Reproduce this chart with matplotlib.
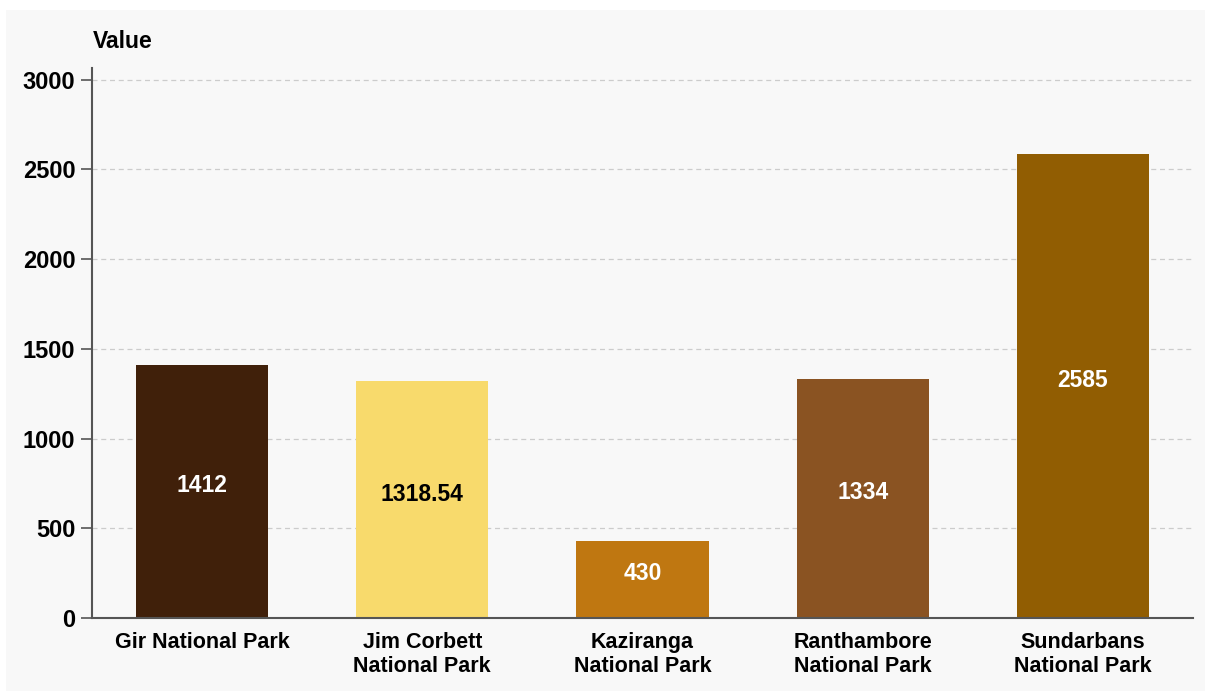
import matplotlib.pyplot as plt
from matplotlib.patches import Rectangle

# park data
parks = ["Gir National Park", "Jim Corbett\nNational Park", "Kaziranga\nNational Park",
         "Ranthambore\nNational Park", "Sundarbans\nNational Park"]
values = [1412, 1318.54, 430, 1334, 2585]
labels = ["1412", "1318.54", "430", "1334", "2585"]
colors = ["#40200a", "#f8da6c", "#bf7711", "#8a5322", "#915d02"]
label_colors = ["white", "black", "white", "white", "white"]
yticks = [0, 500, 1000, 1500, 2000, 2500, 3000]

plt.rcParams['font.family'] = ['Liberation Sans', 'DejaVu Sans']

fig = plt.figure(figsize=(12.05, 6.91), dpi=100, facecolor="white")
fig.patches.append(Rectangle((6 / 1205, 0), 1, 1 - 10 / 691, transform=fig.transFigure,
                             facecolor="#f8f8f8", edgecolor="none", zorder=-10))

ax = fig.add_axes([92 / 1205, 1 - 618 / 691, 1101 / 1205, 550 / 691])
ax.set_facecolor("#f8f8f8")

x = range(len(parks))
ax.bar(x, values, width=0.6, color=colors, zorder=2)
for i, v in enumerate(values):
    ax.annotate(labels[i], (i, v / 2), xytext=(0, 4), textcoords="offset points",
                ha="center", va="center", fontsize=16.5, fontweight="bold",
                color=label_colors[i], zorder=3)

ax.set_xlim(-0.5, 4.5)
ax.set_ylim(0, 3065)
ax.set_yticks(yticks)
ax.set_yticklabels([str(t) for t in yticks], fontsize=17, fontweight="bold")
ax.set_xticks(list(x))
ax.set_xticklabels(parks, fontsize=15.5, fontweight="bold", linespacing=1.2)
ax.tick_params(axis="x", length=0, pad=10)
ax.tick_params(axis="y", length=8, width=1.2, color="#555555", pad=4)

ax.grid(axis="y", linestyle=(0, (4, 3)), color="#cccccc", linewidth=0.9, zorder=0)
for s in ["top", "right"]:
    ax.spines[s].set_visible(False)
for s in ["left", "bottom"]:
    ax.spines[s].set_color("#555555")
    ax.spines[s].set_linewidth(1.5)

fig.text(93 / 1205, 1 - 42 / 691, "Value", fontsize=16.5, fontweight="bold", va="center")

fig.savefig("out.png", dpi=100, facecolor=fig.get_facecolor())
